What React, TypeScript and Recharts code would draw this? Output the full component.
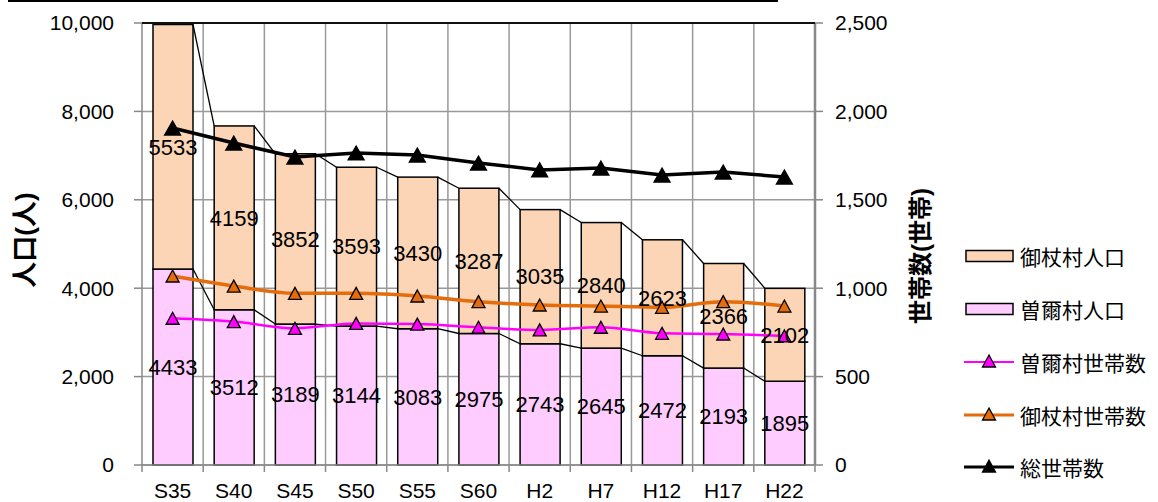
import React from 'react';
import {
  ComposedChart,
  Bar,
  Line,
  XAxis,
  YAxis,
  CartesianGrid,
  LabelList,
} from 'recharts';

const categories = ['S35', 'S40', 'S45', 'S50', 'S55', 'S60', 'H2', 'H7', 'H12', 'H17', 'H22'];
const soniPop = [4433, 3512, 3189, 3144, 3083, 2975, 2743, 2645, 2472, 2193, 1895];
const mitsuePop = [5533, 4159, 3852, 3593, 3430, 3287, 3035, 2840, 2623, 2366, 2102];
const soniHouse = [830, 811, 773, 801, 797, 779, 764, 779, 745, 741, 730];
const mitsueHouse = [1069, 1012, 971, 971, 956, 924, 905, 899, 892, 924, 899];
const totalHouse = [1906, 1821, 1742, 1765, 1753, 1708, 1669, 1680, 1640, 1657, 1629];
const popTicks = [0, 2000, 4000, 6000, 8000, 10000];
const houseTicks = [0, 500, 1000, 1500, 2000, 2500];

const data = categories.map((c, i) => ({
  name: c,
  soni: soniPop[i],
  mitsue: mitsuePop[i],
  soniH: soniHouse[i],
  mitsueH: mitsueHouse[i],
  total: totalHouse[i],
}));

const W = 1158;
const H = 502;
const LEFT_W = 142;
const RIGHT_W = 343;
const TOP = 23;
const XAXIS_H = 37;
const STEP = (W - LEFT_W - RIGHT_W) / categories.length;

const FONT = '"Liberation Sans", Arial, "Noto Sans CJK JP", sans-serif';
const PINK = '#FFCCFF';
const PEACH = '#FBD5B5';
const MAGENTA = '#FF00FF';
const ORANGE = '#E46C0A';

// bar with an Excel-style series line to the next bar
const barWithConnector = (layer: 'soni' | 'mitsue') => (props: any) => {
  const { x, y, width, height, index, payload } = props;
  const value = layer === 'soni' ? payload.soni : payload.mitsue;
  const ppu = height / value;
  const base = layer === 'soni' ? y + height : y + height + payload.soni * ppu;
  const next = data[index + 1];
  let conn = null;
  if (next) {
    const nv = layer === 'soni' ? next.soni : next.soni + next.mitsue;
    conn = (
      <line x1={x + width} y1={y} x2={x + STEP} y2={base - nv * ppu} stroke="#000" strokeWidth={1.3} />
    );
  }
  return (
    <g>
      <rect x={x} y={y} width={width} height={height} fill={layer === 'soni' ? PINK : PEACH} stroke="#000" strokeWidth={1.5} />
      {conn}
    </g>
  );
};

const triangle = (fill: string, w: number, h: number) => (props: any) => {
  const { cx, cy, index } = props;
  const pts = `${cx},${cy - h / 2} ${cx + w / 2},${cy + h / 2} ${cx - w / 2},${cy + h / 2}`;
  return <polygon key={`t${index}`} points={pts} fill={fill} stroke="#000" strokeWidth={1.3} />;
};

const CategoryTick = (props: any) => {
  const { x, payload, index } = props;
  const y0 = H - XAXIS_H;
  return (
    <g>
      <line x1={x - STEP / 2} y1={y0} x2={x - STEP / 2} y2={y0 + 7} stroke="#888" strokeWidth={1.5} />
      {index === categories.length - 1 && (
        <line x1={x + STEP / 2} y1={y0} x2={x + STEP / 2} y2={y0 + 7} stroke="#888" strokeWidth={1.5} />
      )}
      <text x={x} y={H - 4} textAnchor="middle" fontSize={21} fontFamily={FONT} fill="#000">
        {payload.value}
      </text>
    </g>
  );
};

const LegendItem = ({ kind, color, label, top }: { kind: 'box' | 'line'; color: string; label: string; top: number }) => (
  <div style={{ position: 'absolute', left: 964, top: top - 14, height: 28, display: 'flex', alignItems: 'center' }}>
    <svg width={52} height={28}>
      {kind === 'box' ? (
        <rect x={2} y={8.5} width={47} height={11} fill={color} stroke="#000" strokeWidth={1.5} />
      ) : (
        <>
          <line x1={0} y1={14} x2={50} y2={14} stroke={color} strokeWidth={color === MAGENTA ? 2 : 3} />
          <polygon points="25,7 31.5,19 18.5,19" fill={color} stroke="#000" strokeWidth={1.3} />
        </>
      )}
    </svg>
    <span style={{ marginLeft: 4, fontSize: 21, fontFamily: FONT, color: '#000', whiteSpace: 'nowrap' }}>{label}</span>
  </div>
);

export default function App() {
  return (
    <div style={{ position: 'absolute', left: 0, top: 0, width: W, height: H, background: '#fff' }}>
      <div style={{ position: 'absolute', left: 8, top: 0, width: 770, height: 2, background: '#000' }} />
      <ComposedChart
        width={W}
        height={H}
        data={data}
        margin={{ top: TOP, right: 0, bottom: 0, left: 0 }}
        barGap={0}
      >
        <CartesianGrid
          stroke="#999"
          strokeWidth={1.5}
          yAxisId="left"
          verticalCoordinatesGenerator={({ offset }: any) =>
            categories.map((_, k) => offset.left + (k + 1) * (offset.width / categories.length))
          }
        />
        <XAxis
          dataKey="name"
          height={XAXIS_H}
          tickLine={false}
          axisLine={{ stroke: '#888', strokeWidth: 1.5 }}
          tick={<CategoryTick />}
          interval={0}
        />
        <YAxis
          yAxisId="left"
          width={LEFT_W}
          domain={[0, 10000]}
          ticks={popTicks}
          tickSize={8}
          tickMargin={20}
          tickLine={{ stroke: '#888', strokeWidth: 1.5 }}
          axisLine={{ stroke: '#888', strokeWidth: 1.5 }}
          tick={{ fontSize: 21, fontFamily: FONT, fill: '#000' }}
          tickFormatter={(v: number) => v.toLocaleString('en-US')}
        />
        <YAxis
          yAxisId="right"
          orientation="right"
          width={RIGHT_W}
          domain={[0, 2500]}
          ticks={houseTicks}
          tickSize={8}
          tickMargin={12}
          tickLine={{ stroke: '#888', strokeWidth: 1.5 }}
          axisLine={{ stroke: '#888', strokeWidth: 2.5 }}
          tick={{ fontSize: 21, fontFamily: FONT, fill: '#000' }}
          tickFormatter={(v: number) => v.toLocaleString('en-US')}
        />
        <Bar yAxisId="left" dataKey="soni" stackId="pop" barSize={40} shape={barWithConnector('soni')} isAnimationActive={false}>
          <LabelList dataKey="soni" position="center" fontSize={22} fontFamily={FONT} fill="#000" />
        </Bar>
        <Bar yAxisId="left" dataKey="mitsue" stackId="pop" barSize={40} shape={barWithConnector('mitsue')} isAnimationActive={false}>
          <LabelList dataKey="mitsue" position="center" fontSize={22} fontFamily={FONT} fill="#000" />
        </Bar>
        <Line
          yAxisId="right"
          dataKey="soniH"
          type="monotone"
          stroke={MAGENTA}
          strokeWidth={2.5}
          dot={triangle(MAGENTA, 13, 12)}
          activeDot={false}
          isAnimationActive={false}
        />
        <Line
          yAxisId="right"
          dataKey="mitsueH"
          type="monotone"
          stroke={ORANGE}
          strokeWidth={3.5}
          dot={triangle(ORANGE, 13, 12)}
          activeDot={false}
          isAnimationActive={false}
        />
        <Line
          yAxisId="right"
          dataKey="total"
          type="linear"
          stroke="#000"
          strokeWidth={3.5}
          dot={triangle('#000', 16, 14)}
          activeDot={false}
          isAnimationActive={false}
        />
      </ComposedChart>
      {/* top border of the plot */}
      <div style={{ position: 'absolute', left: LEFT_W, top: TOP - 1, width: W - LEFT_W - RIGHT_W, height: 2, background: '#111' }} />
      <div
        style={{
          position: 'absolute',
          left: 22,
          top: 240,
          transform: 'translate(-50%, -50%) rotate(-90deg)',
          fontSize: 26,
          fontWeight: 'bold',
          fontFamily: FONT,
          whiteSpace: 'nowrap',
        }}
      >
        人口(人)
      </div>
      <div
        style={{
          position: 'absolute',
          left: 918,
          top: 256,
          transform: 'translate(-50%, -50%) rotate(-90deg)',
          fontSize: 24,
          fontWeight: 'bold',
          fontFamily: FONT,
          whiteSpace: 'nowrap',
        }}
      >
        世帯数(世帯)
      </div>
      <LegendItem kind="box" color={PEACH} label="御杖村人口" top={256} />
      <LegendItem kind="box" color={PINK} label="曽爾村人口" top={309} />
      <LegendItem kind="line" color={MAGENTA} label="曽爾村世帯数" top={362} />
      <LegendItem kind="line" color={ORANGE} label="御杖村世帯数" top={415} />
      <LegendItem kind="line" color="#000" label="総世帯数" top={467} />
    </div>
  );
}
